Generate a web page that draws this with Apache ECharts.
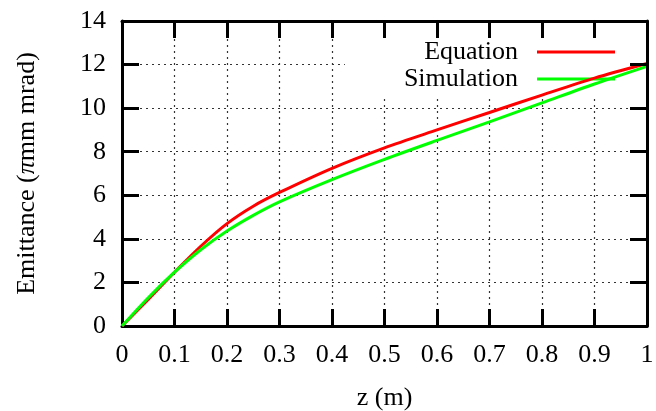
<!DOCTYPE html>
<html>
<head>
<meta charset="utf-8">
<script src="https://cdn.jsdelivr.net/npm/echarts@6/dist/echarts.min.js"></script>
<style>
html,body{margin:0;padding:0;background:#fff;}
#c{width:656px;height:411px;}
</style>
</head>
<body>
<div id="c"></div>
<script>
const zValues = [0, 0.05, 0.1, 0.15, 0.2, 0.25, 0.3, 0.4, 0.5, 0.6, 0.7, 0.8, 0.9, 1.0];
const equation = [0, 1.22, 2.47, 3.66, 4.7, 5.5, 6.13, 7.24, 8.18, 9.0, 9.8, 10.6, 11.38, 12.05];
const simulation = [0, 1.3, 2.47, 3.5, 4.36, 5.08, 5.7, 6.72, 7.65, 8.52, 9.37, 10.24, 11.11, 11.92];
const seriesNames = ['Equation', 'Simulation'];
const xTicks = ['0','0.1','0.2','0.3','0.4','0.5','0.6','0.7','0.8','0.9','1'];
const yTicks = ['0','2','4','6','8','10','12','14'];

const FONT = 'Liberation Serif';
const chart = echarts.init(document.getElementById('c'), null, {renderer: 'canvas'});

function pairs(xs, ys) { return xs.map((x, i) => [x, ys[i]]); }

const axisLine = {show: true, onZero: false, lineStyle: {color: '#000', width: 3}};
const axisTick = {show: true, inside: true, length: 17, lineStyle: {color: '#000', width: 3}};
const splitLine = {show: true, lineStyle: {color: '#333', width: 1.2, type: [2, 4]}};

const option = {
  backgroundColor: '#fff',
  animation: false,
  grid: {left: 122, right: 9, top: 21, bottom: 85, containLabel: false, outerBoundsMode: 'none'},
  legend: {
    data: seriesNames,
    orient: 'vertical',
    align: 'right',
    right: 16,
    top: 37,
    padding: [2, 25, 5, 59],
    itemGap: 1,
    itemWidth: 78,
    itemHeight: 3,
    icon: 'rect',
    backgroundColor: '#fff',
    z: 1,
    selectedMode: false,
    textStyle: {fontFamily: FONT, fontSize: 26, color: '#000', lineHeight: 26, padding: [0, 14, 0, 0]}
  },
  xAxis: [
    {
      type: 'value', min: 0, max: 1, interval: 0.1, position: 'bottom',
      axisLine: axisLine, axisTick: axisTick, splitLine: splitLine,
      axisLabel: {
        fontFamily: FONT, fontSize: 26, color: '#000', margin: 16,
        formatter: v => xTicks[Math.round(v * 10)]
      },
      name: 'z (m)', nameLocation: 'middle', nameGap: 59,
      nameTextStyle: {fontFamily: FONT, fontSize: 26, color: '#000'}
    },
    {
      type: 'value', min: 0, max: 1, interval: 0.1, position: 'top', z: 5,
      axisLine: axisLine, axisTick: axisTick, splitLine: {show: false},
      axisLabel: {show: false}
    }
  ],
  yAxis: [
    {
      type: 'value', min: 0, max: 14, interval: 2, position: 'left',
      axisLine: axisLine, axisTick: axisTick, splitLine: splitLine,
      axisLabel: {
        fontFamily: FONT, fontSize: 26, color: '#000', margin: 16,
        formatter: v => yTicks[Math.round(v / 2)]
      },
      name: '{a|Emittance (}{p|π}{a|mm mrad)}', nameLocation: 'middle', nameGap: 82,
      nameTextStyle: {
        fontFamily: FONT, fontSize: 26, color: '#000',
        rich: {
          a: {fontFamily: FONT, fontSize: 26, color: '#000'},
          p: {fontFamily: FONT, fontSize: 26, color: '#000', fontStyle: 'italic'}
        }
      }
    },
    {
      type: 'value', min: 0, max: 14, interval: 2, position: 'right', z: 5,
      axisLine: axisLine, axisTick: axisTick, splitLine: {show: false},
      axisLabel: {show: false}
    }
  ],
  series: [
    {
      name: seriesNames[0], type: 'line', xAxisIndex: 0, yAxisIndex: 0,
      data: pairs(zValues, equation), symbol: 'none', smooth: 0.3, z: 3,
      lineStyle: {color: '#ff0000', width: 3}, itemStyle: {color: '#ff0000'}
    },
    {
      name: seriesNames[1], type: 'line', xAxisIndex: 0, yAxisIndex: 0,
      data: pairs(zValues, simulation), symbol: 'none', smooth: 0.3, z: 3,
      lineStyle: {color: '#00ff00', width: 3}, itemStyle: {color: '#00ff00'}
    }
  ]
};
chart.setOption(option);
</script>
</body>
</html>
